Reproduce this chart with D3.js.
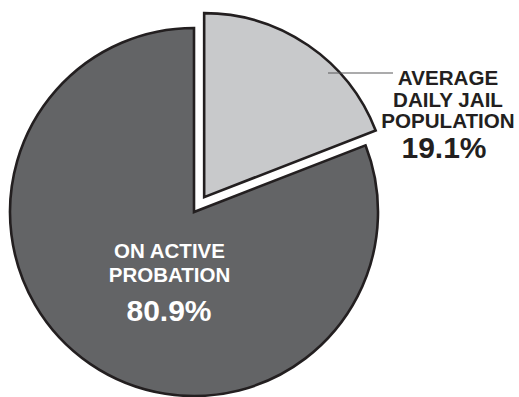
<!DOCTYPE html>
<html>
<head>
<meta charset="utf-8">
<script src="https://cdn.jsdelivr.net/npm/d3@7"></script>
<style>
  html, body { margin: 0; padding: 0; background: #fff; }
  svg { display: block; }
  text { font-family: "Liberation Sans", Arial, sans-serif; font-weight: bold; }
</style>
</head>
<body>
<svg id="chart" width="519" height="397"></svg>
<script>
const categories = ["AVERAGE DAILY JAIL POPULATION", "ON ACTIVE PROBATION"];
const values = [19.1, 80.9];
const labelLines = [["AVERAGE", "DAILY JAIL", "POPULATION"], ["ON ACTIVE", "PROBATION"]];
const valueLabels = ["19.1%", "80.9%"];
const colors = ["#c8c9cb", "#636466"];
const exploded = [true, false];

const W = 519, H = 397;
const cx = 194, cy = 212, R = 184, explode = 18;

const svg = d3.select("#chart");
const data = values.map((v, i) => ({ name: categories[i], value: v, i }));
const pie = d3.pie().sort(null).value(d => d.value);
const arcs = pie(data);
const arc = d3.arc().innerRadius(0).outerRadius(R);

const g = svg.append("g").attr("transform", `translate(${cx},${cy})`);

g.selectAll("path.slice")
  .data(arcs)
  .join("path")
  .attr("class", "slice")
  .attr("d", arc)
  .attr("fill", d => colors[d.data.i])
  .attr("stroke", "#231f20")
  .attr("stroke-width", 2.6)
  .attr("stroke-linejoin", "miter")
  .attr("transform", d => {
    if (!exploded[d.data.i]) return null;
    const a = (d.startAngle + d.endAngle) / 2;
    return `translate(${explode * Math.sin(a)},${-explode * Math.cos(a)})`;
  });

// Leader line for small slice
svg.append("line")
  .attr("x1", 328).attr("y1", 73)
  .attr("x2", 393).attr("y2", 73)
  .attr("stroke", "#58595b")
  .attr("stroke-width", 1.2);

// Right label (outside)
const rx = 448;
const rLines = svg.append("text").attr("text-anchor", "middle").attr("fill", "#231f20");
labelLines[0].forEach((t, k) => {
  rLines.append("tspan").attr("x", rx).attr("y", 85 + k * 21.5).attr("font-size", 20.6).text(t);
});
svg.append("text").attr("text-anchor", "middle").attr("fill", "#231f20")
  .attr("x", 444).attr("y", 158).attr("font-size", 30).text(valueLabels[0]);

// Left label (inside)
const lx = 169.5;
const lLines = svg.append("text").attr("text-anchor", "middle").attr("fill", "#ffffff");
labelLines[1].forEach((t, k) => {
  lLines.append("tspan").attr("x", lx).attr("y", 258 + k * 23.5).attr("font-size", 20.5).text(t);
});
svg.append("text").attr("text-anchor", "middle").attr("fill", "#ffffff")
  .attr("x", 169).attr("y", 321).attr("font-size", 30).text(valueLabels[1]);
</script>
</body>
</html>
